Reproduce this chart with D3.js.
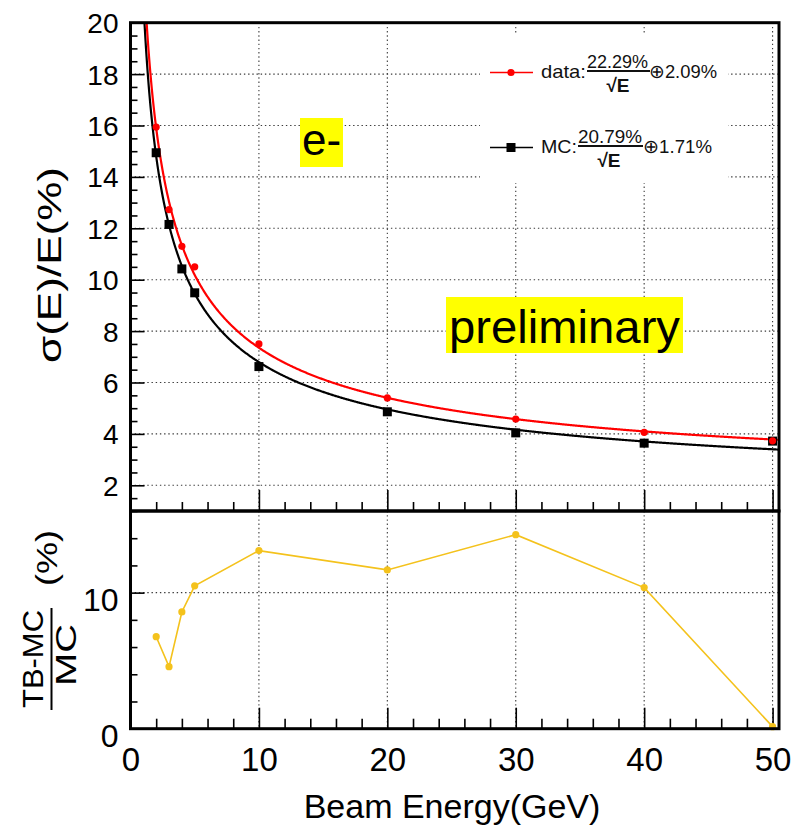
<!DOCTYPE html>
<html>
<head>
<meta charset="utf-8">
<script src="https://cdn.jsdelivr.net/npm/d3@7"></script>
<style>
  html, body { margin: 0; padding: 0; background: #fff; }
  svg { display: block; font-family: "Liberation Sans", Arial, sans-serif; }
</style>
</head>
<body>
<svg id="chart" width="795" height="829"></svg>
<script>
// Beam energies (GeV)
const energies = [2, 3, 4, 5, 10, 20, 30, 40, 50];
// Energy resolution sigma(E)/E in %
const dataResolution = [15.94, 12.73, 11.30, 10.50, 7.50, 5.40, 4.58, 4.06, 3.73];
const mcResolution   = [14.94, 12.15, 10.42, 9.49, 6.62, 4.86, 4.04, 3.64, 3.72];
// (TB-MC)/MC in %
const relativeDiff   = [6.76, 4.56, 8.58, 10.50, 13.09, 11.67, 14.26, 10.37, 0.15];

// Fit parameters: stochastic term (%) and constant term (%)
const fitNames      = ["data", "MC"];
const fitStochastic = [22.29, 20.79];
const fitConstant   = [2.09, 1.71];

// Axis ticks
const xMajor = [0, 10, 20, 30, 40, 50];
const yTopMajor = [2, 4, 6, 8, 10, 12, 14, 16, 18, 20];
const yBotMajor = [0, 10];

const svg = d3.select("#chart");

const X0 = 130.5, X1 = 779;
const TOP0 = 22.7, MID = 511, BOT = 728.7;

const x = d3.scaleLinear().domain([0, 50.5]).range([X0, X1]);
const yTop = d3.scaleLinear().domain([1, 20]).range([MID, TOP0]);
const yBot = d3.scaleLinear().domain([0, 16]).range([BOT, MID]);

const font = '"Liberation Sans", Arial, sans-serif';
const gridColor = "#3a3a3a";

// ---------- grids ----------
const grid = svg.append("g").attr("stroke", gridColor).attr("stroke-width", 1.1)
  .attr("stroke-dasharray", "1.4,2.8").attr("fill", "none");
xMajor.filter(v => v > 0).forEach(v => {
  grid.append("line").attr("x1", x(v)).attr("x2", x(v)).attr("y1", TOP0).attr("y2", MID);
  grid.append("line").attr("x1", x(v)).attr("x2", x(v)).attr("y1", MID).attr("y2", BOT);
});
yTopMajor.filter(v => v < 20).forEach(v => {
  grid.append("line").attr("x1", X0).attr("x2", X1).attr("y1", yTop(v)).attr("y2", yTop(v));
});
yBotMajor.filter(v => v > 0).forEach(v => {
  grid.append("line").attr("x1", X0).attr("x2", X1).attr("y1", yBot(v)).attr("y2", yBot(v));
});

// ---------- tick marks ----------
function styleAxis(g) {
  g.select(".domain").remove();
  g.selectAll(".tick line").attr("stroke", "#000").attr("stroke-width", 1.6);
  g.selectAll("text").attr("font-family", font).attr("fill", "#000");
}
const xMinor = d3.range(0, 51, 2).filter(v => v % 10 !== 0);

// top panel: x ticks on its bottom edge (no labels)
svg.append("g").attr("transform", `translate(0,${MID})`)
  .call(d3.axisTop(x).tickValues(xMajor).tickSize(21).tickFormat("")).call(styleAxis);
svg.append("g").attr("transform", `translate(0,${MID})`)
  .call(d3.axisTop(x).tickValues(xMinor).tickSize(9).tickFormat("")).call(styleAxis);

// bottom panel: x ticks + labels
svg.append("g").attr("transform", `translate(0,${BOT})`)
  .call(d3.axisBottom(x).tickValues(xMajor).tickSizeInner(-21).tickSizeOuter(0).tickPadding(19).tickFormat(d3.format("d")))
  .call(styleAxis)
  .call(g => g.selectAll("text").attr("font-size", 33));
svg.append("g").attr("transform", `translate(0,${BOT})`)
  .call(d3.axisTop(x).tickValues(xMinor).tickSize(10).tickFormat("")).call(styleAxis);

// top panel: y axis
const yTopMinor = d3.range(1, 20.01, 0.5).filter(v => v % 2 !== 0);
svg.append("g").attr("transform", `translate(${X0},0)`)
  .call(d3.axisLeft(yTop).tickValues(yTopMajor).tickSizeInner(-14).tickSizeOuter(0).tickPadding(12).tickFormat(d3.format("d")))
  .call(styleAxis)
  .call(g => g.selectAll("text").attr("font-size", 28).attr("dy", "0.36em"));
svg.append("g").attr("transform", `translate(${X0},0)`)
  .call(d3.axisRight(yTop).tickValues(yTopMinor).tickSize(7).tickFormat("")).call(styleAxis);

// bottom panel: y axis
const yBotMinor = [2, 4, 6, 8, 12, 14];
svg.append("g").attr("transform", `translate(${X0},0)`)
  .call(d3.axisLeft(yBot).tickValues(yBotMajor).tickSizeInner(-14).tickSizeOuter(0).tickPadding(12).tickFormat(d3.format("d")))
  .call(styleAxis)
  .call(g => g.selectAll("text").attr("font-size", 32).attr("dy", "0.55em"));
svg.append("g").attr("transform", `translate(${X0},0)`)
  .call(d3.axisRight(yBot).tickValues(yBotMinor).tickSize(7).tickFormat("")).call(styleAxis);

// ---------- legend box (covers grid) ----------
svg.append("rect").attr("x", 480).attr("y", 33).attr("width", 248).attr("height", 150).attr("fill", "#fff");

// ---------- fit curves ----------
const clip = svg.append("clipPath").attr("id", "topclip")
  .append("rect").attr("x", X0).attr("y", TOP0).attr("width", X1 - X0).attr("height", MID - TOP0);
const fitColors = ["#ff0000", "#000000"];
const eGrid = d3.range(1.0, 50.51, 0.05);
const line = d3.line().x(d => x(d[0])).y(d => yTop(d[1]));
const curves = svg.append("g").attr("clip-path", "url(#topclip)");
[1, 0].forEach(i => {
  const pts = eGrid.map(e => [e, Math.sqrt(Math.pow(fitStochastic[i] / Math.sqrt(e), 2) + Math.pow(fitConstant[i], 2))]);
  curves.append("path").attr("d", line(pts)).attr("fill", "none")
    .attr("stroke", fitColors[i]).attr("stroke-width", 2.2);
});

// ---------- markers ----------
const mk = svg.append("g");
mk.selectAll("rect.mc").data(energies).join("rect").attr("class", "mc")
  .attr("x", (d) => x(d) - 4.5).attr("y", (d, i) => yTop(mcResolution[i]) - 4.5)
  .attr("width", 9).attr("height", 9).attr("fill", "#000");
mk.selectAll("circle.data").data(energies).join("circle").attr("class", "data")
  .attr("cx", d => x(d)).attr("cy", (d, i) => yTop(dataResolution[i]))
  .attr("r", 3.6).attr("fill", "#ff0000");

// ratio panel
const ratioColor = "#f4c21c";
const ratioPts = energies.map((e, i) => [e, relativeDiff[i]]);
svg.append("path")
  .attr("d", d3.line().x(d => x(d[0])).y(d => yBot(d[1]))(ratioPts))
  .attr("fill", "none").attr("stroke", ratioColor).attr("stroke-width", 1.6);
svg.append("g").selectAll("circle").data(ratioPts).join("circle")
  .attr("cx", d => x(d[0])).attr("cy", d => yBot(d[1])).attr("r", 3.6).attr("fill", ratioColor);

// ---------- frames ----------
svg.append("rect").attr("x", X0).attr("y", TOP0).attr("width", X1 - X0).attr("height", MID - TOP0)
  .attr("fill", "none").attr("stroke", "#000").attr("stroke-width", 3);
svg.append("rect").attr("x", X0).attr("y", MID).attr("width", X1 - X0).attr("height", BOT - MID)
  .attr("fill", "none").attr("stroke", "#000").attr("stroke-width", 3);

// ---------- legend ----------
const legRows = [
  { y: 72.5, labelW: 45, numX: 587, numW: 61, lineW: 63, restX: 649, restW: 68 },
  { y: 147.5, labelW: 36, numX: 578, numW: 64, lineW: 65, restX: 643, restW: 69 }
];
legRows.forEach((r, i) => {
  const g = svg.append("g").attr("font-family", font).attr("fill", "#111");
  g.append("line").attr("x1", 490).attr("x2", 533).attr("y1", r.y).attr("y2", r.y)
    .attr("stroke", fitColors[i]).attr("stroke-width", 1.6);
  if (i === 0) {
    g.append("circle").attr("cx", 511).attr("cy", r.y).attr("r", 3.6).attr("fill", fitColors[i]);
  } else {
    g.append("rect").attr("x", 506.5).attr("y", r.y - 4.5).attr("width", 9).attr("height", 9).attr("fill", "#000");
  }
  g.append("text").attr("x", 541).attr("y", r.y + 5).attr("font-size", 19)
    .attr("textLength", r.labelW).attr("lengthAdjust", "spacingAndGlyphs").text(fitNames[i] + ":");
  g.append("text").attr("x", r.numX).attr("y", r.y - 5).attr("font-size", 18.5)
    .attr("textLength", r.numW).attr("lengthAdjust", "spacingAndGlyphs")
    .text(fitStochastic[i].toFixed(2) + "%");
  g.append("line").attr("x1", r.numX).attr("x2", r.numX + r.lineW).attr("y1", r.y - 1.5).attr("y2", r.y - 1.5)
    .attr("stroke", "#111").attr("stroke-width", 1.8);
  g.append("text").attr("x", r.numX + 31).attr("y", r.y + 19).attr("font-size", 19)
    .attr("text-anchor", "middle").attr("font-weight", "bold").text("\u221AE");
  g.append("text").attr("x", r.restX).attr("y", r.y + 5).attr("font-size", 18.5)
    .attr("textLength", r.restW).attr("lengthAdjust", "spacingAndGlyphs")
    .text("\u2295" + fitConstant[i].toFixed(2) + "%");
});

// ---------- highlighted labels ----------
svg.append("rect").attr("x", 300).attr("y", 118).attr("width", 43).attr("height", 49).attr("fill", "#ffff00");
svg.append("text").attr("x", 302).attr("y", 155).attr("font-family", font).attr("font-size", 44).text("e-");
svg.append("rect").attr("x", 446).attr("y", 297).attr("width", 237).attr("height", 56).attr("fill", "#ffff00");
svg.append("text").attr("x", 449).attr("y", 343).attr("font-family", font).attr("font-size", 47)
  .attr("textLength", 231).attr("lengthAdjust", "spacingAndGlyphs").text("preliminary");

// ---------- axis titles ----------
svg.append("text").attr("x", 452).attr("y", 818).attr("text-anchor", "middle")
  .attr("font-family", font).attr("font-size", 34).text("Beam Energy(GeV)");

svg.append("text").attr("transform", "translate(61,265) rotate(-90)").attr("text-anchor", "middle")
  .attr("font-family", font).attr("font-size", 34)
  .attr("textLength", 196).attr("lengthAdjust", "spacingAndGlyphs").text("\u03C3(E)/E(%)");

svg.append("text").attr("transform", "translate(43,659) rotate(-90)").attr("text-anchor", "middle")
  .attr("font-family", font).attr("font-size", 30)
  .attr("textLength", 98).attr("lengthAdjust", "spacingAndGlyphs").text("TB-MC");
svg.append("line").attr("x1", 51.5).attr("x2", 51.5).attr("y1", 608).attr("y2", 710)
  .attr("stroke", "#000").attr("stroke-width", 2);
svg.append("text").attr("transform", "translate(76,655) rotate(-90)").attr("text-anchor", "middle")
  .attr("font-family", font).attr("font-size", 30)
  .attr("textLength", 62).attr("lengthAdjust", "spacingAndGlyphs").text("MC");
svg.append("text").attr("transform", "translate(57,558) rotate(-90)").attr("text-anchor", "middle")
  .attr("font-family", font).attr("font-size", 30)
  .attr("textLength", 56).attr("lengthAdjust", "spacingAndGlyphs").text("(%)");
</script>
</body>
</html>
